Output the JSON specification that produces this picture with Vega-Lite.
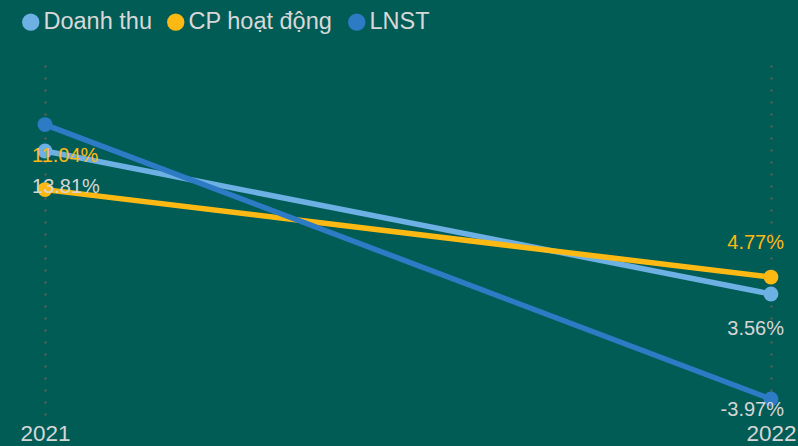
{
  "$schema": "https://vega.github.io/schema/vega-lite/v6.json",
  "width": 816,
  "height": 358,
  "autosize": {"type": "none"},
  "padding": {"left": 0, "top": 60, "right": 0, "bottom": 28},
  "background": "#015c56",
  "config": {
    "view": {"stroke": null},
    "font": "Liberation Sans"
  },
  "data": {
    "values": [
      {"year": "2021", "series": "Doanh thu", "value": 13.81, "label": "13.81%"},
      {"year": "2022", "series": "Doanh thu", "value": 3.56, "label": "3.56%"},
      {"year": "2021", "series": "CP hoạt động", "value": 11.04, "label": "11.04%"},
      {"year": "2022", "series": "CP hoạt động", "value": 4.77, "label": "4.77%"},
      {"year": "2021", "series": "LNST", "value": 15.7, "label": ""},
      {"year": "2022", "series": "LNST", "value": -3.97, "label": "-3.97%"}
    ]
  },
  "encoding": {
    "x": {
      "field": "year",
      "type": "ordinal",
      "scale": {"type": "point", "padding": 0.062},
      "axis": {
        "title": null,
        "domain": false,
        "ticks": false,
        "labelAngle": 0,
        "labelFontSize": 22.5,
        "labelColor": "#d6d6d6",
        "labelPadding": 4,
        "grid": true,
        "gridColor": "#6e5a57",
        "gridWidth": 2,
        "gridDash": [2, 10],
        "gridDashOffset": -5
      }
    },
    "y": {
      "field": "value",
      "type": "quantitative",
      "scale": {"domain": [-5.33, 20.33], "nice": false, "zero": false},
      "axis": null
    }
  },
  "layer": [
    {
      "mark": {"type": "line", "strokeWidth": 5.5},
      "encoding": {
        "color": {
          "field": "series",
          "type": "nominal",
          "scale": {
            "domain": ["Doanh thu", "CP hoạt động", "LNST"],
            "range": ["#6db0e4", "#fdb913", "#2c7bc4"]
          },
          "legend": {
            "title": null,
            "orient": "none",
            "legendX": 19,
            "legendY": -50,
            "direction": "horizontal",
            "symbolType": "circle",
            "symbolSize": 300,
            "symbolStrokeWidth": 0,
            "labelFontSize": 23.5,
            "labelColor": "#d8d8d8",
            "labelOffset": 1,
            "columnPadding": 12,
            "padding": 0
          }
        },
        "order": {"field": "year"},
        "detail": {"field": "series"}
      }
    },
    {
      "mark": {"type": "point", "filled": true, "opacity": 1, "size": 220},
      "encoding": {
        "color": {"field": "series", "type": "nominal"},
        "shape": {"value": "circle"}
      }
    },
    {
      "transform": [{"filter": "datum.series == 'CP hoạt động' && datum.year == '2021'"}],
      "mark": {"type": "text", "align": "left", "dx": -13, "dy": -34, "fontSize": 20, "color": "#fdb913"},
      "encoding": {"text": {"field": "label"}}
    },
    {
      "transform": [{"filter": "datum.series == 'CP hoạt động' && datum.year == '2022'"}],
      "mark": {"type": "text", "align": "right", "dx": 13, "dy": -34, "fontSize": 20, "color": "#fdb913"},
      "encoding": {"text": {"field": "label"}}
    },
    {
      "transform": [{"filter": "datum.series == 'Doanh thu' && datum.year == '2021'"}],
      "mark": {"type": "text", "align": "left", "dx": -13, "dy": 36, "fontSize": 20, "color": "#d6d6d6"},
      "encoding": {"text": {"field": "label"}}
    },
    {
      "transform": [{"filter": "datum.series == 'Doanh thu' && datum.year == '2022'"}],
      "mark": {"type": "text", "align": "right", "dx": 13, "dy": 35, "fontSize": 20, "color": "#d6d6d6"},
      "encoding": {"text": {"field": "label"}}
    },
    {
      "transform": [{"filter": "datum.series == 'LNST' && datum.year == '2022'"}],
      "mark": {"type": "text", "align": "right", "dx": 13, "dy": 11, "fontSize": 20, "color": "#d6d6d6"},
      "encoding": {"text": {"field": "label"}}
    }
  ]
}
